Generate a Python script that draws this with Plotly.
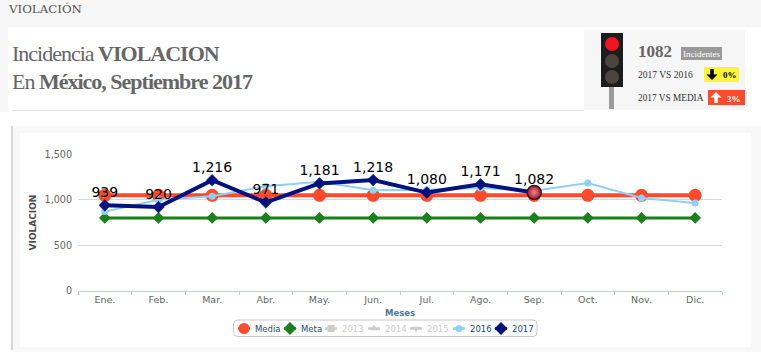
import plotly.graph_objects as go

W, H = 761, 355
months = ["Ene.", "Feb.", "Mar.", "Abr.", "May.", "Jun.", "Jul.", "Ago.", "Sep.", "Oct.", "Nov.", "Dic."]
media = [1050] * 12
meta = [800] * 12
y2016 = [870, 1000, 1040, 1150, 1200, 1105, 1110, 1130, 1100, 1185, 1020, 965]
y2017 = [939, 920, 1216, 971, 1181, 1218, 1080, 1171, 1082]
legend_names = ["Media", "Meta", "2013", "2014", "2015", "2016", "2017"]

RED, GREEN, LIGHT, NAVY = "#ff4a2b", "#1b7f1b", "#8fd0f5", "#00127f"
fx = lambda v: v / W
fy = lambda v: 1 - v / H

fig = go.Figure()
fig.add_trace(go.Scatter(x=months, y=media, mode="lines+markers", name="Media",
                         line=dict(color=RED, width=4), marker=dict(symbol="circle", size=13, color=RED)))
fig.add_trace(go.Scatter(x=months, y=meta, mode="lines+markers", name="Meta",
                         line=dict(color=GREEN, width=3), marker=dict(symbol="diamond", size=9, color=GREEN)))
fig.add_trace(go.Scatter(x=months, y=y2016, mode="lines+markers", name="2016",
                         line=dict(color=LIGHT, width=2), marker=dict(symbol="circle", size=7, color=LIGHT)))
sizes = [9] * 8 + [14]
colors = [NAVY] * 8 + ["#a81526"]
lcols = [NAVY] * 8 + ["#33191a"]
lw = [0.5] * 8 + [1.5]
fig.add_trace(go.Scatter(x=months[:9], y=y2017, mode="lines+markers", name="2017",
                         line=dict(color=NAVY, width=4),
                         marker=dict(symbol=["diamond"] * 8 + ["circle"], size=sizes, color=colors, opacity=1,
                                     gradient=dict(type=["none"] * 8 + ["radial"], color=[NAVY] * 8 + ["#e58c95"]),
                                     line=dict(color=lcols, width=lw))))
fig.add_trace(go.Scatter(x=months[:9], y=y2017, mode="markers+text", name="2017 labels", hoverinfo="skip",
                         marker=dict(size=6, opacity=0),
                         text=[f"{v:,}" for v in y2017], textposition="top center",
                         textfont=dict(family="DejaVu Sans", size=14, color="#000000")))

# legend keys, drawn on a pixel axis that spans the page
key_x = [244, 290, 331, 374, 416, 459, 501]
key_sym = ["circle", "diamond", "square", "triangle-up", "triangle-down", "circle", "diamond"]
key_col = [RED, GREEN, "#cccccc", "#cccccc", "#cccccc", LIGHT, NAVY]
key_size = [11, 10, 7, 7, 7, 7, 10]
for kx, s, c, z in zip(key_x, key_sym, key_col, key_size):
    fig.add_trace(go.Scatter(x=[kx - 6, kx, kx + 6], y=[328.5] * 3, xaxis="x2", yaxis="y2", mode="lines",
                             line=dict(color=c, width=2.5), hoverinfo="skip"))
    fig.add_trace(go.Scatter(x=[kx], y=[328.5], xaxis="x2", yaxis="y2", mode="markers",
                             marker=dict(symbol=s, size=z, color=c), hoverinfo="skip"))

shapes = []
def rect(x0, y0, x1, y1, color, line=None, lw=1):
    shapes.append(dict(type="rect", xref="paper", yref="paper", x0=fx(x0), x1=fx(x1), y0=fy(y0), y1=fy(y1),
                       fillcolor=color, line=dict(color=line or color, width=lw if line else 0), layer="below"))
def circ(cx, cy, r, color):
    shapes.append(dict(type="circle", xref="paper", yref="paper", x0=fx(cx - r), x1=fx(cx + r), y0=fy(cy - r), y1=fy(cy + r),
                       fillcolor=color, line=dict(width=0), layer="below"))
def arrow(cx, cy, d, color):
    # d = 1 points down, d = -1 points up; outline is relative to the badge centre
    pts = [(-1.8, -5.5), (1.8, -5.5), (1.8, 0), (5.5, 0), (0, 5.5), (-5.5, 0), (-1.8, 0)]
    p = " ".join(("M" if i == 0 else "L") + f" {fx(cx + a)} {fy(cy + d * b)}" for i, (a, b) in enumerate(pts)) + " Z"
    shapes.append(dict(type="path", xref="paper", yref="paper", path=p, fillcolor=color, line=dict(width=0), layer="below"))

rect(0, 0, W, 27, "#f6f6f6")
rect(0, 27, 8, 112, "#f6f6f6")
rect(584, 30, 745, 110, "#f6f6f6")
rect(12, 110, 584, 111, "#e2e2e2")
rect(13, 126, W, 352, "#f8f8f8")
rect(11, 126, 13, 350, "#d8d8d8")
rect(20, 133, 751, 347, "#ffffff")
# traffic light
rect(609, 87, 614, 109, "#9a9a9a")
rect(601, 33, 623, 87, "#1c1c1c")
circ(612, 44, 7, "#f0141e")
circ(612, 61, 7, "#4a463f")
circ(612, 77, 7, "#4a463f")
# badges
rect(681, 47, 722, 60, "#999999")
rect(704, 67, 739, 82, "#fff533")
rect(708, 90, 745, 105, "#ff4a2b")
arrow(712, 74.5, 1, "#000000")
arrow(716, 97.5, -1, "#ffffff")
# legend frame
x0, x1, y0, y1, r = 233.5, 537, 320, 336.5, 4
shapes.append(dict(type="path", xref="paper", yref="paper", layer="below",
    path=" ".join([
        f"M {fx(x0 + r)} {fy(y0)}", f"L {fx(x1 - r)} {fy(y0)}", f"Q {fx(x1)} {fy(y0)} {fx(x1)} {fy(y0 + r)}",
        f"L {fx(x1)} {fy(y1 - r)}", f"Q {fx(x1)} {fy(y1)} {fx(x1 - r)} {fy(y1)}", f"L {fx(x0 + r)} {fy(y1)}",
        f"Q {fx(x0)} {fy(y1)} {fx(x0)} {fy(y1 - r)}", f"L {fx(x0)} {fy(y0 + r)}", f"Q {fx(x0)} {fy(y0)} {fx(x0 + r)} {fy(y0)} Z"]),
    line=dict(color="#c8c8c8", width=1), fillcolor="#ffffff"))

def txt(x, y, s, size, color="#666666", family="Liberation Serif", anchor="left"):
    return dict(x=fx(x), y=fy(y), xref="paper", yref="paper", text=s, showarrow=False, xanchor=anchor, yanchor="middle",
                font=dict(family=family, size=size, color=color), borderpad=0)

ann = [
    txt(7, 9, "VIOLACIÓN", 11.8, "#555555", "DejaVu Serif"),
    txt(115, 53, "Incidencia <b>VIOLACION</b>", 22, anchor="center"),
    txt(132, 81, "En <b>México, Septiembre 2017</b>", 22, anchor="center"),
    txt(637, 51, "<b>1082</b>", 17),
    txt(701.5, 53.5, "Incidentes", 9, "#ffffff", anchor="center"),
    txt(637, 75, "2017 VS 2016", 9.5, "#333333"),
    txt(637, 98, "2017 VS MEDIA", 9.3, "#333333"),
    txt(730, 75.5, "<b>0%</b>", 9, "#000000", anchor="center"),
    txt(734, 98.5, "<b>3%</b>", 9, "#ffffff", anchor="center"),
]
for name, kx, col in zip(legend_names, key_x, [
        "#274b6d", "#274b6d", "#cccccc", "#cccccc", "#cccccc", "#274b6d", "#274b6d"]):
    ann.append(txt(kx + 10, 328.5, name, 8.5, col, "DejaVu Sans"))

fig.update_layout(
    width=W, height=H, margin=dict(l=0, r=0, t=0, b=0, autoexpand=False), paper_bgcolor="#ffffff", plot_bgcolor="rgba(0,0,0,0)",
    showlegend=False, shapes=shapes, annotations=ann,
    font=dict(family="DejaVu Sans", color="#666666"),
    xaxis=dict(domain=[fx(78), fx(722)], type="category", categoryorder="array", categoryarray=months,
               range=[-0.5, 11.5], tickson="boundaries", ticks="outside", ticklen=3, tickcolor="#c0d0e0",
               showline=True, linecolor="#c0d0e0", linewidth=1, showgrid=False, tickfont=dict(size=9.5, color="#666666"),
               automargin=False, title=dict(text="<b>Meses</b>", font=dict(size=8.5, color="#4d759e"), standoff=6)),
    yaxis=dict(domain=[fy(290.5), fy(154.5)], range=[0, 1500], tickvals=[0, 500, 1000, 1500], tickformat=",d",
               showgrid=True, gridcolor="#d8d8d8", gridwidth=1, zeroline=False, tickfont=dict(size=9.6, color="#666666"),
               ticklabelstandoff=5,
               automargin=False, ticks="", title=dict(text="<b>VIOLACION</b>", font=dict(size=9, color="#4d4d4d"), standoff=6)),
    xaxis2=dict(domain=[0, 1], range=[0, W], visible=False, anchor="y2", automargin=False),
    yaxis2=dict(domain=[0, 1], range=[H, 0], visible=False, anchor="x2", automargin=False),
)
fig.write_html("out.html", config=dict(displayModeBar=False),
               post_script="""document.body.style.margin='0';document.body.style.overflow='hidden';
document.querySelectorAll('.annotation-text').forEach(function(t){
  if(t.textContent.indexOf('Incidencia')===0||t.textContent.indexOf('En ')===0){t.style.letterSpacing='-1px';}
});""")
